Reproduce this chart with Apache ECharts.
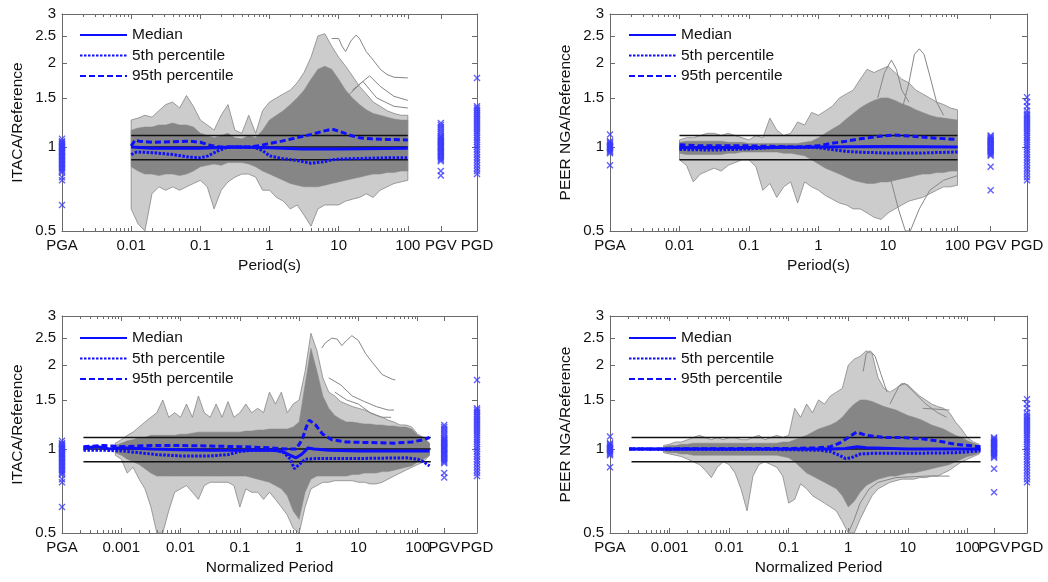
<!DOCTYPE html>
<html><head><meta charset="utf-8">
<script src="https://cdn.jsdelivr.net/npm/echarts@6/dist/echarts.min.js"></script>
<style>html,body{margin:0;padding:0;background:#fff}#c{width:1048px;height:582px}</style>
</head><body><div id="c"></div>
<script>
// ================= DATA =================
const LEGEND_NAMES = ['Median', '5th percentile', '95th percentile'];
const Y_TICKS = [0.5, 1, 1.5, 2, 2.5, 3];
const Y_TICK_LABELS = ['0.5', '1', '1.5', '2', '2.5', '3'];
const REF_LEVELS = [0.9, 1, 1.1];
const TOP_X_LABEL_VALUES = [0.001, 0.01, 0.1, 1, 10, 100, 300, 1000];
const TOP_X_LABELS = ['PGA', '0.01', '0.1', '1', '10', '100', 'PGV', 'PGD'];
const BOT_X_LABEL_VALUES = [0.0001, 0.001, 0.01, 0.1, 1, 10, 100, 280, 1000];
const BOT_X_LABELS = ['PGA', '0.001', '0.01', '0.1', '1', '10', '100', 'PGV', 'PGD'];
const TOP_REF_RANGE = [0.01, 100];
const BOT_REF_RANGE = [0.00023, 166];
const TOP_GM_X = [0.001, 300, 1000];   // PGA, PGV, PGD positions
const BOT_GM_X = [0.0001, 280, 1000];

// period grids of the envelopes
const TOP_T = [0.01,0.0126,0.0158,0.02,0.0251,0.0316,0.0398,0.0501,0.0631,0.0794,
  0.1,0.126,0.158,0.2,0.251,0.316,0.398,0.501,0.631,0.794,
  1,1.26,1.58,2,2.51,3.16,3.98,5.01,6.31,7.94,
  10,12.6,15.8,20,25.1,31.6,39.8,50.1,63.1,79.4,100];
const BOT_T = [0.000794,
  0.001,0.00126,0.00158,0.002,0.00251,0.00316,0.00398,0.00501,0.00631,0.00794,
  0.01,0.0126,0.0158,0.02,0.0251,0.0316,0.0398,0.0501,0.0631,0.0794,
  0.1,0.126,0.158,0.2,0.251,0.316,0.398,0.501,0.631,0.794,
  1,1.26,1.58,2,2.51,3.16,3.98,5.01,6.31,7.94,
  10,12.6,15.8,20,25.1,31.6,39.8,50.1,63.1,79.4,
  100,126,158];

// ---- Panel 1: ITACA / Period ----
const P1_CORE_HI = [1.15,1.17,1.18,1.18,1.2,1.2,1.22,1.2,1.2,1.18, 1.12,1.1,1.08,1.1,1.12,1.08,1.07,1.1,1.08,1.15, 1.25,1.3,1.35,1.42,1.5,1.6,1.75,1.9,1.95,1.9, 1.75,1.6,1.5,1.42,1.36,1.32,1.3,1.28,1.26,1.25, 1.25];
const P1_CORE_LO = [0.85,0.82,0.8,0.8,0.79,0.8,0.8,0.79,0.8,0.82, 0.85,0.86,0.87,0.86,0.88,0.88,0.88,0.87,0.85,0.82, 0.8,0.78,0.76,0.74,0.73,0.72,0.72,0.72,0.73,0.74, 0.75,0.76,0.77,0.78,0.79,0.8,0.8,0.81,0.81,0.82, 0.82];
const P1_SPIKE_HI = [1.25,1.27,1.3,1.28,1.35,1.42,1.45,1.38,1.53,1.4, 1.25,1.2,1.15,1.3,1.42,1.15,1.12,1.3,1.12,1.35, 1.45,1.5,1.55,1.6,1.7,1.85,2.1,2.5,2.55,2.3, 2.1,1.95,1.8,1.65,1.55,1.45,1.4,1.35,1.32,1.3, 1.3];
const P1_SPIKE_LO = [0.6,0.53,0.5,0.68,0.72,0.7,0.72,0.7,0.72,0.74, 0.76,0.72,0.6,0.7,0.75,0.78,0.8,0.8,0.78,0.7, 0.7,0.66,0.64,0.6,0.62,0.57,0.52,0.6,0.62,0.62, 0.62,0.64,0.65,0.66,0.68,0.66,0.7,0.72,0.74,0.75, 0.76];
const P1_MED_T = [0.01,0.02,0.1,0.3,1,3,10,100];
const P1_MED = [1.0,0.99,0.99,1.0,0.995,0.985,0.985,0.99];
const P1_P5_T = [0.01,0.012,0.02,0.04,0.07,0.1,0.13,0.18,0.25,0.6,0.8,1,1.5,2.5,4,6,8,10,20,50,100];
const P1_P5 = [0.94,0.96,0.955,0.94,0.92,0.915,0.93,0.97,1.0,1.0,0.97,0.93,0.91,0.895,0.875,0.885,0.9,0.905,0.91,0.915,0.915];
const P1_P95_T = [0.01,0.0115,0.013,0.02,0.04,0.07,0.1,0.15,0.2,0.5,0.7,1,1.5,2.5,4,6,8,10,15,20,30,50,100];
const P1_P95 = [1.01,1.06,1.05,1.04,1.045,1.05,1.04,1.01,1.0,1.0,1.01,1.03,1.05,1.08,1.11,1.14,1.16,1.14,1.1,1.08,1.07,1.065,1.06];
const P1_OUT1_T = [7.94,10,11.2,12.6,15,17.8,20,25,31.6,40,50,63,100];
const P1_OUT1 = [2.45,2.45,2.3,2.2,2.4,2.52,2.45,2.2,2.05,1.9,1.82,1.78,1.77];
const P1_OUT2_T = [15.8,28,40,63,100];
const P1_OUT2 = [1.6,1.8,1.65,1.52,1.47];
const P1_OUT3_T = [12.6,22.4,35.5,63,100];
const P1_OUT3 = [1.5,1.72,1.5,1.4,1.38];

// ---- Panel 2: PEER NGA / Period ----
const P2_CORE_HI = [1.04,1.05,1.05,1.05,1.05,1.05,1.05,1.04,1.04,1.04, 1.03,1.03,1.03,1.03,1.03,1.03,1.03,1.03,1.04,1.05, 1.08,1.12,1.16,1.2,1.26,1.32,1.38,1.43,1.47,1.5, 1.5,1.47,1.43,1.4,1.36,1.33,1.3,1.28,1.27,1.26, 1.25];
const P2_CORE_LO = [0.95,0.94,0.94,0.94,0.94,0.94,0.94,0.95,0.95,0.96, 0.96,0.96,0.96,0.96,0.96,0.95,0.95,0.94,0.93,0.9, 0.87,0.84,0.82,0.8,0.78,0.76,0.75,0.74,0.74,0.75, 0.75,0.76,0.77,0.78,0.79,0.8,0.8,0.81,0.81,0.82, 0.82];
const P2_SPIKE_HI = [1.06,1.08,1.08,1.1,1.12,1.12,1.1,1.12,1.1,1.08, 1.06,1.1,1.08,1.27,1.15,1.1,1.12,1.23,1.2,1.33, 1.3,1.35,1.4,1.5,1.55,1.6,1.75,1.9,1.85,1.9, 1.95,1.85,1.75,1.7,1.6,1.55,1.5,1.45,1.42,1.38, 1.36];
const P2_SPIKE_LO = [0.9,0.86,0.75,0.8,0.82,0.84,0.82,0.86,0.88,0.9, 0.9,0.85,0.7,0.74,0.66,0.72,0.75,0.63,0.75,0.72, 0.7,0.67,0.65,0.63,0.62,0.6,0.6,0.58,0.56,0.55, 0.58,0.6,0.62,0.64,0.65,0.66,0.68,0.7,0.72,0.72, 0.73];
const P2_MED_T = [0.01,0.1,1,10,100];
const P2_MED = [0.995,0.995,1.0,1.005,1.0];
const P2_P5_T = [0.01,0.03,0.1,0.3,1,1.5,2.5,4,10,30,100];
const P2_P5 = [0.98,0.975,0.985,1.0,0.995,0.98,0.965,0.958,0.952,0.952,0.96];
const P2_P95_T = [0.01,0.02,0.1,0.5,1,1.5,2.5,4,7,12,20,40,70,100];
const P2_P95 = [1.02,1.01,1.01,1.0,1.01,1.03,1.05,1.07,1.09,1.105,1.095,1.08,1.07,1.065];
const P2_OUT1_T = [15.8,20,24,28.2,33,40,50,63];
const P2_OUT1 = [1.35,1.7,2.15,2.25,2.15,1.8,1.45,1.3];
const P2_OUT2_T = [7.1,8.9,11.2,13.2,15.8,20];
const P2_OUT2 = [1.5,1.85,2.05,1.9,1.6,1.45];
const P2_OUT3_T = [7.9,11.2,14.1,17.8,20.9,28.2,40,63,100];
const P2_OUT3 = [0.9,0.75,0.6,0.5,0.5,0.6,0.7,0.76,0.79];

// ---- Panel 3: ITACA / Normalized Period ----
const P3_CORE_HI = [1.03,1.05,1.07,1.08,1.1,1.1,1.12,1.12,1.12,1.12, 1.12,1.13,1.13,1.14,1.15,1.15,1.15,1.15,1.15,1.15, 1.15,1.15,1.16,1.16,1.17,1.17,1.18,1.18,1.18,1.18, 1.2,1.25,1.7,2.3,1.9,1.55,1.4,1.32,1.28,1.25, 1.25,1.24,1.23,1.23,1.22,1.22,1.21,1.21,1.2,1.2, 1.18,1.12,1.1,1.05];
const P3_CORE_LO = [0.97,0.95,0.92,0.9,0.88,0.85,0.82,0.8,0.8,0.8, 0.8,0.8,0.8,0.8,0.8,0.8,0.8,0.8,0.8,0.8, 0.8,0.8,0.8,0.79,0.78,0.77,0.76,0.74,0.72,0.68, 0.6,0.56,0.7,0.78,0.8,0.8,0.8,0.8,0.8,0.8, 0.81,0.81,0.82,0.82,0.82,0.83,0.83,0.84,0.85,0.86, 0.87,0.9,0.92,0.95];
const P3_SPIKE_HI = [1.05,1.08,1.12,1.15,1.2,1.25,1.3,1.35,1.5,1.3, 1.35,1.3,1.45,1.3,1.55,1.35,1.3,1.45,1.3,1.48, 1.3,1.35,1.45,1.35,1.4,1.35,1.6,1.45,1.6,1.35, 1.45,1.5,1.9,2.6,2.25,1.8,1.6,1.55,1.48,1.45, 1.42,1.4,1.38,1.35,1.32,1.3,1.27,1.25,1.22,1.22, 1.2,1.13,1.1,1.05];
const P3_SPIKE_LO = [0.95,0.92,0.82,0.86,0.78,0.72,0.62,0.5,0.5,0.6, 0.7,0.72,0.74,0.7,0.66,0.74,0.76,0.76,0.76,0.76, 0.74,0.62,0.72,0.7,0.7,0.66,0.7,0.66,0.62,0.58, 0.52,0.5,0.62,0.72,0.74,0.76,0.76,0.77,0.77,0.77, 0.77,0.76,0.76,0.75,0.75,0.76,0.78,0.8,0.82,0.84, 0.86,0.88,0.9,0.95];
const P3_MED_T = [0.00023,0.0004,0.00063,0.001,0.0032,0.01,0.032,0.1,0.32,0.5,0.71,0.89,1.12,1.41,1.78,3.2,10,100,158];
const P3_MED = [1.01,1.02,1.0,1.01,1.0,0.995,0.99,0.99,0.99,0.985,0.95,0.93,0.96,1.01,1.0,0.99,0.985,0.985,0.985];
const P3_P5_T = [0.00023,0.0005,0.001,0.002,0.004,0.01,0.032,0.063,0.1,0.16,0.4,0.56,0.71,0.83,1,1.26,2,10,63,100,126,158];
const P3_P5 = [0.99,0.99,0.985,0.97,0.955,0.945,0.945,0.955,0.98,0.99,0.99,0.97,0.92,0.85,0.88,0.92,0.925,0.925,0.93,0.92,0.9,0.87];
const P3_P95_T = [0.00023,0.0005,0.001,0.0032,0.01,0.032,0.1,0.32,0.63,0.89,1.12,1.32,1.48,1.9,2.5,3.55,6.3,15.8,40,80,126,158];
const P3_P95 = [1.02,1.03,1.02,1.03,1.03,1.025,1.02,1.01,1.0,1.0,1.08,1.2,1.27,1.22,1.13,1.08,1.06,1.055,1.05,1.06,1.08,1.1];
const P3_OUT1_T = [2.4,2.75,3.55,4.37,5.25,6.3,7.76,10,13.2,17,25.1,37.2,41.7];
const P3_OUT1 = [2.3,2.4,2.5,2.48,2.35,2.45,2.55,2.45,2.2,2.05,1.85,1.78,1.77];
const P3_OUT2_T = [3.16,5,7.9,12.6,20,31.6,39.8];
const P3_OUT2 = [1.8,1.7,1.55,1.48,1.42,1.38,1.38];
const P3_OUT3_T = [4,6.3,10,15.8,25.1,35.5];
const P3_OUT3 = [1.6,1.5,1.45,1.35,1.3,1.3];

// ---- Panel 4: PEER NGA / Normalized Period ----
const P4_CORE_HI = [1.02,1.03,1.03,1.04,1.04,1.05,1.05,1.05,1.05,1.05, 1.05,1.05,1.05,1.05,1.05,1.05,1.05,1.05,1.05,1.05, 1.06,1.06,1.08,1.1,1.12,1.15,1.18,1.2,1.22,1.25, 1.3,1.38,1.45,1.5,1.5,1.48,1.45,1.42,1.4,1.38, 1.35,1.32,1.3,1.28,1.25,1.22,1.2,1.18,1.15,1.12, 1.1,1.07,1.05,1.03];
const P4_CORE_LO = [0.98,0.97,0.97,0.96,0.96,0.95,0.95,0.95,0.95,0.95, 0.95,0.95,0.95,0.95,0.95,0.95,0.95,0.95,0.95,0.95, 0.94,0.93,0.9,0.86,0.82,0.8,0.78,0.76,0.74,0.72, 0.68,0.62,0.65,0.7,0.74,0.76,0.78,0.79,0.8,0.8, 0.81,0.82,0.82,0.83,0.84,0.85,0.86,0.87,0.88,0.9, 0.92,0.94,0.95,0.97];
const P4_SPIKE_HI = [1.03,1.04,1.06,1.06,1.08,1.1,1.12,1.1,1.08,1.1, 1.08,1.1,1.1,1.08,1.08,1.1,1.12,1.08,1.1,1.12, 1.1,1.12,1.4,1.3,1.45,1.35,1.5,1.45,1.55,1.6, 1.65,2.0,2.1,2.15,2.25,2.2,1.8,1.65,1.6,1.65, 1.72,1.7,1.62,1.55,1.5,1.45,1.42,1.4,1.35,1.25, 1.18,1.1,1.06,1.04];
const P4_SPIKE_LO = [0.97,0.96,0.95,0.94,0.92,0.9,0.88,0.84,0.79,0.86, 0.9,0.88,0.82,0.72,0.6,0.8,0.88,0.9,0.88,0.86, 0.8,0.64,0.66,0.75,0.72,0.68,0.66,0.64,0.62,0.6, 0.55,0.5,0.5,0.56,0.62,0.68,0.72,0.74,0.76,0.77, 0.78,0.78,0.78,0.79,0.79,0.8,0.8,0.82,0.84,0.87, 0.9,0.92,0.94,0.96];
const P4_MED_T = [0.00021,0.01,0.1,0.5,0.89,1.41,2,10,166];
const P4_MED = [1.0,1.0,1.0,1.0,1.005,1.02,1.01,1.0,1.0];
const P4_P5_T = [0.00021,0.1,0.32,0.5,0.71,0.89,1.12,1.58,2.5,10,63,166];
const P4_P5 = [1.0,0.995,0.99,0.98,0.95,0.925,0.93,0.96,0.965,0.965,0.97,0.985];
const P4_P95_T = [0.00021,0.1,0.32,0.5,0.71,1,1.38,2,4,7.9,15.8,31.6,63,166];
const P4_P95 = [1.0,1.005,1.01,1.02,1.05,1.1,1.15,1.12,1.1,1.1,1.09,1.07,1.04,1.02];
const P4_OUT1_T = [1.78,2,2.34,2.82,3.55,4.47];
const P4_OUT1 = [1.9,2.2,2.25,2.15,1.85,1.6];
const P4_OUT2_T = [5,7.1,8.9,12.6,20,31.6,44.7];
const P4_OUT2 = [1.45,1.68,1.72,1.6,1.45,1.35,1.3];
const P4_OUT3_T = [17.8,50];
const P4_OUT3 = [1.4,1.38];
const P4_OUT4_T = [1,1.26,1.58,2.24,3.16,6.3,20,50];
const P4_OUT4 = [0.5,0.56,0.64,0.72,0.76,0.79,0.8,0.8];

// ---- ground-motion parameters (x markers) ----
const ITACA_PGA = [1.07,1.05,1.04,1.03,1.02,1.01,1.0,0.99,0.98,0.97,0.96,0.95,0.94,0.93,0.92,0.91,0.9,0.89,0.88,0.87,0.86,0.85,0.84,0.83,0.82,0.81,0.78,0.76,0.62];
const ITACA_PGV = [1.22,1.2,1.18,1.16,1.14,1.12,1.1,1.09,1.08,1.07,1.06,1.05,1.04,1.03,1.02,1.01,1.0,0.99,0.98,0.97,0.96,0.95,0.94,0.93,0.92,0.91,0.9,0.89,0.82,0.79];
const ITACA_PGD = [1.77,1.4,1.38,1.36,1.34,1.32,1.3,1.28,1.26,1.24,1.22,1.2,1.18,1.16,1.14,1.12,1.1,1.08,1.06,1.04,1.02,1.0,0.98,0.96,0.94,0.92,0.9,0.88,0.86,0.84,0.82,0.8];
const PEER_PGA = [1.11,1.05,1.04,1.03,1.02,1.01,1.0,0.99,0.98,0.97,0.96,0.95,0.86];
const PEER_PGV = [1.1,1.09,1.08,1.07,1.06,1.05,1.04,1.03,1.02,1.01,1.0,0.99,0.98,0.97,0.96,0.95,0.94,0.93,0.85,0.7];
const PEER_PGD = [1.51,1.45,1.4,1.35,1.32,1.3,1.28,1.26,1.24,1.22,1.2,1.18,1.16,1.14,1.12,1.1,1.08,1.06,1.04,1.02,1.0,0.98,0.96,0.94,0.92,0.9,0.88,0.86,0.84,0.82,0.8,0.78,0.76];

// ================= LAYOUT / STYLE =================
const FONT = 'Liberation Sans, Arial, Helvetica, sans-serif';
const BLUE = '#0d0dff';
const MARK_BLUE = '#3a3aff';
const GRAY = '#868686';
const AXIS_GRAY = '#6a6a6a';
const XMARK = 'path://M0,1.4L1.4,0L5,3.6L8.6,0L10,1.4L6.4,5L10,8.6L8.6,10L5,6.4L1.4,10L0,8.6L3.6,5Z';

const PANELS = [
  {grid:{left:62,top:14,width:415,height:217}, xMin:0.001, xMax:1000, lv:TOP_X_LABEL_VALUES, lt:TOP_X_LABELS, minorDec:[-3,2],
   xName:'Period(s)', yName:'ITACA/Reference', T:TOP_T, cHi:P1_CORE_HI, cLo:P1_CORE_LO, sHi:P1_SPIKE_HI, sLo:P1_SPIKE_LO,
   med:[P1_MED_T,P1_MED], p5:[P1_P5_T,P1_P5], p95:[P1_P95_T,P1_P95],
   outs:[[P1_OUT1_T,P1_OUT1],[P1_OUT2_T,P1_OUT2],[P1_OUT3_T,P1_OUT3]],
   ref:TOP_REF_RANGE, gmX:TOP_GM_X, gm:[ITACA_PGA,ITACA_PGV,ITACA_PGD], legend:{left:79,top:27}},
  {grid:{left:610,top:14,width:417,height:217}, xMin:0.001, xMax:1000, lv:TOP_X_LABEL_VALUES, lt:TOP_X_LABELS, minorDec:[-3,2],
   xName:'Period(s)', yName:'PEER NGA/Reference', T:TOP_T, cHi:P2_CORE_HI, cLo:P2_CORE_LO, sHi:P2_SPIKE_HI, sLo:P2_SPIKE_LO,
   med:[P2_MED_T,P2_MED], p5:[P2_P5_T,P2_P5], p95:[P2_P95_T,P2_P95],
   outs:[[P2_OUT1_T,P2_OUT1],[P2_OUT2_T,P2_OUT2],[P2_OUT3_T,P2_OUT3]],
   ref:TOP_REF_RANGE, gmX:TOP_GM_X, gm:[PEER_PGA,PEER_PGV,PEER_PGD], legend:{left:628,top:27}},
  {grid:{left:62,top:316,width:415,height:217}, xMin:0.0001, xMax:1000, lv:BOT_X_LABEL_VALUES, lt:BOT_X_LABELS, minorDec:[-4,2],
   xName:'Normalized Period', yName:'ITACA/Reference', T:BOT_T, cHi:P3_CORE_HI, cLo:P3_CORE_LO, sHi:P3_SPIKE_HI, sLo:P3_SPIKE_LO,
   med:[P3_MED_T,P3_MED], p5:[P3_P5_T,P3_P5], p95:[P3_P95_T,P3_P95],
   outs:[[P3_OUT1_T,P3_OUT1],[P3_OUT2_T,P3_OUT2],[P3_OUT3_T,P3_OUT3]],
   ref:BOT_REF_RANGE, gmX:BOT_GM_X, gm:[ITACA_PGA,ITACA_PGV,ITACA_PGD], legend:{left:79,top:330}},
  {grid:{left:610,top:316,width:417,height:217}, xMin:0.0001, xMax:1000, lv:BOT_X_LABEL_VALUES, lt:BOT_X_LABELS, minorDec:[-4,2],
   xName:'Normalized Period', yName:'PEER NGA/Reference', T:BOT_T, cHi:P4_CORE_HI, cLo:P4_CORE_LO, sHi:P4_SPIKE_HI, sLo:P4_SPIKE_LO,
   med:[P4_MED_T,P4_MED], p5:[P4_P5_T,P4_P5], p95:[P4_P95_T,P4_P95],
   outs:[[P4_OUT1_T,P4_OUT1],[P4_OUT2_T,P4_OUT2],[P4_OUT3_T,P4_OUT3],[P4_OUT4_T,P4_OUT4]],
   ref:BOT_REF_RANGE, gmX:BOT_GM_X, gm:[PEER_PGA,PEER_PGV,PEER_PGD], legend:{left:628,top:330}}
];

function minorTicks(d0, d1) {
  const out = [];
  for (let e = d0; e < d1; e++) for (let m = 2; m <= 9; m++) out.push(+(m * Math.pow(10, e)).toPrecision(3));
  return out;
}
function nearestLabel(v, vals, txt) {
  const lv = Math.log10(v);
  for (let i = 0; i < vals.length; i++) if (Math.abs(Math.log10(vals[i]) - lv) < 0.01) return txt[i];
  return '';
}

const grids = [], xAxes = [], yAxes = [], series = [], legends = [];
PANELS.forEach((P, p) => {
  grids.push(Object.assign({show:false, containLabel:false}, P.grid));
  const base = {type:'log', logBase:10, gridIndex:p, min:P.xMin, max:P.xMax, splitLine:{show:false}, minorTick:{show:false}, minorSplitLine:{show:false}};
  const minors = minorTicks(P.minorDec[0], P.minorDec[1]);
  xAxes.push(Object.assign({}, base, {position:'bottom',
    axisLine:{show:true, onZero:false, lineStyle:{color:AXIS_GRAY, width:1}},
    axisTick:{show:true, inside:true, length:5, customValues:P.lv, lineStyle:{color:AXIS_GRAY}},
    axisLabel:{show:true, customValues:P.lv, margin:7, fontSize:15, color:'#111', fontFamily:FONT,
      hideOverlap:false, showMinLabel:true, showMaxLabel:true,
      formatter:(v) => nearestLabel(v, P.lv, P.lt)},
    name:P.xName, nameLocation:'middle', nameGap:27, nameTextStyle:{fontSize:15.5, color:'#111', fontFamily:FONT}}));
  xAxes.push(Object.assign({}, base, {position:'bottom', axisLine:{show:false, onZero:false},
    axisTick:{show:true, inside:true, length:3, customValues:minors, lineStyle:{color:AXIS_GRAY}}, axisLabel:{show:false}}));
  xAxes.push(Object.assign({}, base, {position:'top',
    axisLine:{show:true, onZero:false, lineStyle:{color:AXIS_GRAY, width:1}},
    axisTick:{show:true, inside:true, length:5, customValues:P.lv, lineStyle:{color:AXIS_GRAY}}, axisLabel:{show:false}}));
  xAxes.push(Object.assign({}, base, {position:'top', axisLine:{show:false, onZero:false},
    axisTick:{show:true, inside:true, length:3, customValues:minors, lineStyle:{color:AXIS_GRAY}}, axisLabel:{show:false}}));
  const ybase = {type:'log', logBase:10, gridIndex:p, min:0.5, max:3, splitLine:{show:false}};
  yAxes.push(Object.assign({}, ybase, {position:'left',
    axisLine:{show:true, onZero:false, lineStyle:{color:AXIS_GRAY, width:1}},
    axisTick:{show:true, inside:true, length:5, customValues:Y_TICKS, lineStyle:{color:AXIS_GRAY}},
    axisLabel:{show:true, customValues:Y_TICKS, margin:6, fontSize:15, color:'#111', fontFamily:FONT,
      formatter:(v) => nearestLabel(v, Y_TICKS, Y_TICK_LABELS)},
    name:P.yName, nameLocation:'middle', nameGap:36, nameRotate:90, nameTextStyle:{fontSize:15.5, color:'#111', fontFamily:FONT}}));
  yAxes.push(Object.assign({}, ybase, {position:'right',
    axisLine:{show:true, onZero:false, lineStyle:{color:AXIS_GRAY, width:1}},
    axisTick:{show:true, inside:true, length:5, customValues:Y_TICKS, lineStyle:{color:AXIS_GRAY}}, axisLabel:{show:false}}));

  const xi = 4 * p, yi = 2 * p;
  const band = (lo, hi, style, z) => ({
    type:'custom', xAxisIndex:xi, yAxisIndex:yi, z, silent:true, clip:true,
    data: P.T.map((t, i) => [t, lo[i], hi[i]]),
    encode:{x:0, y:[1, 2]},
    renderItem: (params, api) => {
      if (params.dataIndex !== 0) return null;
      const pts = [];
      for (let i = 0; i < P.T.length; i++) pts.push(api.coord([P.T[i], hi[i]]));
      for (let i = P.T.length - 1; i >= 0; i--) pts.push(api.coord([P.T[i], lo[i]]));
      return {type:'polygon', shape:{points:pts}, style};
    }
  });
  // spread of individual records (outer fringe, dense core)
  series.push(band(P.sLo, P.sHi, {fill:'rgba(134,134,134,0.42)', stroke:GRAY, lineWidth:0.8}, 1));
  series.push(band(P.cLo, P.cHi, {fill:'#868686', stroke:'#868686', lineWidth:0.5}, 2));
  P.outs.forEach(([T, V]) => series.push({type:'line', xAxisIndex:xi, yAxisIndex:yi, z:3, silent:true, symbol:'none',
    data:T.map((t, i) => [t, V[i]]), lineStyle:{color:GRAY, width:1}}));
  // reference levels
  REF_LEVELS.forEach(lv => series.push({type:'line', xAxisIndex:xi, yAxisIndex:yi, z:4, silent:true, symbol:'none',
    data:[[P.ref[0], lv], [P.ref[1], lv]], lineStyle:{color:'#111', width:1.6}}));
  // percentiles
  const pl = (name, [T, V], type, z) => ({type:'line', name, xAxisIndex:xi, yAxisIndex:yi, z, silent:true, symbol:'none',
    data:T.map((t, i) => [t, V[i]]), itemStyle:{color:BLUE}, lineStyle:{color:BLUE, width:3, type, cap:'butt'}});
  series.push(pl('5th percentile', P.p5, [2.5, 1.5], 5));
  series.push(pl('95th percentile', P.p95, [6, 3], 5));
  series.push(pl('Median', P.med, 'solid', 6));
  // PGA / PGV / PGD markers
  P.gm.forEach((vals, k) => series.push({type:'scatter', xAxisIndex:xi, yAxisIndex:yi, z:7, silent:true, clip:false,
    symbol:XMARK, symbolSize:7, itemStyle:{color:MARK_BLUE},
    data:vals.map(v => [P.gmX[k], v])}));
  legends.push({data:LEGEND_NAMES, orient:'vertical', left:P.legend.left, top:P.legend.top, padding:0,
    itemWidth:47, itemHeight:14, itemGap:4.5, selectedMode:false, itemStyle:{opacity:0},
    textStyle:{fontSize:15.5, color:'#111', fontFamily:FONT}});
});

const chart = echarts.init(document.getElementById('c'), null, {renderer:'canvas'});
chart.setOption({
  animation:false, backgroundColor:'#fff',
  textStyle:{fontFamily:FONT},
  grid:grids, xAxis:xAxes, yAxis:yAxes, legend:legends, series
});
</script></body></html>
